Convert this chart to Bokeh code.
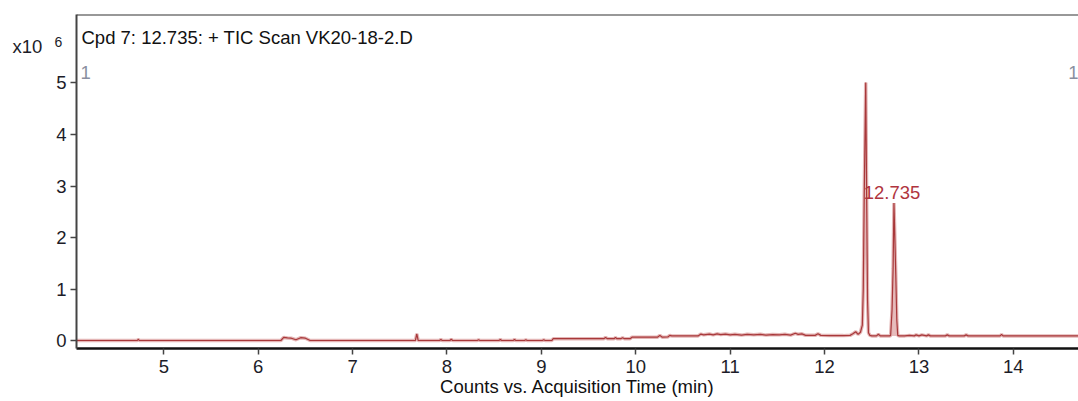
from bokeh.plotting import figure
from bokeh.models import Label, Span, FixedTicker, Range1d
from bokeh.embed import file_html
from bokeh.resources import INLINE

# ---- data (retention time in minutes, TIC counts in units of 10^6) ----
rt_min = [
    4.075, 4.72, 4.73, 4.74, 6.24, 6.27, 6.31, 6.35, 6.40, 6.45, 6.50, 6.55, 7.665, 7.68, 7.695,
    7.92, 7.935, 7.95, 8.03, 8.045, 8.06, 8.32, 8.335, 8.35, 8.55, 8.565, 8.58, 8.70, 8.715, 8.73,
    8.82, 8.835, 8.85, 9.01, 9.025, 9.04, 9.11,
    9.125, 9.66, 9.68, 9.70, 9.77, 9.785, 9.80, 9.84, 9.86, 9.88, 9.94, 9.96, 10.23, 10.255, 10.28,
    10.34, 10.36, 10.38,
    10.66, 10.69, 10.72, 10.78, 10.82, 10.86, 10.90, 10.95, 11.00, 11.05, 11.12, 11.18, 11.25, 11.32,
    11.38, 11.45, 11.52, 11.58, 11.64, 11.69, 11.72, 11.76, 11.80, 11.90, 11.93, 11.96, 12.05, 12.20, 12.27,
    12.30, 12.33, 12.355, 12.38, 12.40, 12.41, 12.42, 12.436, 12.447, 12.455, 12.465, 12.48, 12.50,
    12.55, 12.57, 12.59, 12.69, 12.70, 12.715, 12.726, 12.735, 12.754, 12.765, 12.775, 12.79,
    12.85, 12.90, 12.95, 12.97, 13.00, 13.03, 13.08, 13.10, 13.12, 13.28, 13.30, 13.32, 13.48, 13.50,
    13.52, 13.86, 13.875, 13.89, 14.20, 14.69,
]
tic_e6 = [
    0.0, 0.0, 0.025, 0.0, 0.0, 0.06, 0.05, 0.045, 0.015, 0.055, 0.045, 0.0, 0.0, 0.13, 0.0,
    0.0, 0.02, 0.0, 0.0, 0.025, 0.0, 0.0, 0.015, 0.0, 0.0, 0.02, 0.0, 0.0, 0.02, 0.0,
    0.0, 0.015, 0.0, 0.0, 0.015, 0.0, 0.0,
    0.035, 0.035, 0.06, 0.035, 0.035, 0.06, 0.035, 0.035, 0.055, 0.035, 0.035, 0.065, 0.065, 0.10, 0.065,
    0.07, 0.10, 0.09,
    0.09, 0.125, 0.11, 0.125, 0.11, 0.13, 0.115, 0.125, 0.11, 0.12, 0.105, 0.12, 0.11, 0.12,
    0.105, 0.115, 0.11, 0.12, 0.105, 0.14, 0.12, 0.13, 0.10, 0.10, 0.13, 0.10, 0.095, 0.095, 0.10,
    0.13, 0.17, 0.12, 0.16, 0.30, 1.0, 2.8, 5.01, 2.5, 0.8, 0.15, 0.10, 0.09,
    0.09, 0.12, 0.09, 0.09, 0.10, 0.6, 1.4, 2.67, 1.3, 0.4, 0.10, 0.09,
    0.09, 0.10, 0.09, 0.11, 0.09, 0.11, 0.09, 0.11, 0.09, 0.09, 0.11, 0.09, 0.09, 0.11,
    0.09, 0.09, 0.12, 0.09, 0.09, 0.09,
]
x_ticks = [5, 6, 7, 8, 9, 10, 11, 12, 13, 14]
y_ticks = [0, 1, 2, 3, 4, 5]
title_text = "Cpd 7: 12.735: + TIC Scan VK20-18-2.D"
x_label_text = "Counts vs. Acquisition Time (min)"
peak_rt = 12.735
peak_label = "12.735"
peak_window = (12.69, 12.79)

X_START, X_END = 4.075, 14.69
Y_START, Y_END = -0.155, 6.33

FONT = "Liberation Sans"
FS = "18.5px"
LINE = "#a8383a"
HALO = "#e4b6b6"

p = figure(width=1078, height=401, output_backend="svg", toolbar_location=None,
           x_range=Range1d(X_START, X_END), y_range=Range1d(Y_START, Y_END),
           min_border_left=76, min_border_right=0, min_border_top=14, min_border_bottom=53)
p.outline_line_color = None
p.grid.visible = False
p.background_fill_color = "white"
p.border_fill_color = "white"

# axes
xa = p.xaxis[0]
xa.ticker = FixedTicker(ticks=x_ticks)
xa.axis_line_width = 2.5
xa.axis_line_color = "#111111"
xa.major_tick_out = 6
xa.major_tick_in = 0
xa.major_tick_line_color = "#444444"
xa.major_tick_line_width = 1.5
xa.minor_tick_line_color = None
xa.major_label_text_font = FONT
xa.major_label_text_font_size = FS
xa.major_label_text_color = "#1c1c28"
xa.major_label_standoff = 5
xa.axis_label = x_label_text
xa.axis_label_text_font = FONT
xa.axis_label_text_font_size = FS
xa.axis_label_text_font_style = "normal"
xa.axis_label_text_color = "#111111"
xa.axis_label_standoff = 0

ya = p.yaxis[0]
ya.ticker = FixedTicker(ticks=y_ticks)
ya.axis_line_width = 2
ya.axis_line_color = "#444444"
ya.major_tick_out = 6
ya.major_tick_in = 0
ya.major_tick_line_color = "#444444"
ya.major_tick_line_width = 1.5
ya.minor_tick_line_color = None
ya.major_label_text_font = FONT
ya.major_label_text_font_size = FS
ya.major_label_text_color = "#1c1c28"
ya.major_label_standoff = 4

# top border
p.add_layout(Span(location=Y_END, dimension="width", line_color="#333333", line_width=2))

# shaded integrated peak
sel = [i for i, t in enumerate(rt_min) if peak_window[0] <= t <= peak_window[1]]
px = [rt_min[i] for i in sel]
py = [tic_e6[i] for i in sel]
base = min(py)
p.varea(x=px, y1=[base] * len(px), y2=py, fill_color=HALO, fill_alpha=0.9)

# chromatogram
p.line(rt_min, tic_e6, line_color=HALO, line_width=3.5)
p.line(rt_min, tic_e6, line_color=LINE, line_width=1.2)

# annotations
peak_h = max(tic_e6[i] for i in sel)
p.add_layout(Label(x=peak_rt, y=peak_h, x_offset=-2, y_offset=11, text=peak_label,
                   text_align="center", text_baseline="middle", text_font=FONT,
                   text_font_size=FS, text_color="#b0343e"))
p.add_layout(Label(x=5, y=311, x_units="screen", y_units="screen", text=title_text,
                   text_baseline="middle", text_font=FONT, text_font_size=FS,
                   text_color="#111111"))
p.add_layout(Label(x=4, y=276, x_units="screen", y_units="screen", text="1",
                   text_baseline="middle", text_font=FONT, text_font_size=FS,
                   text_color="#8a8fa0"))
p.add_layout(Label(x=1002, y=276, x_units="screen", y_units="screen", text="1",
                   text_align="right", text_baseline="middle", text_font=FONT,
                   text_font_size=FS, text_color="#8a8fa0"))
p.add_layout(Label(x=-11, y=302, x_units="screen", y_units="screen", text="x10",
                   text_baseline="middle", text_font=FONT, text_font_size=FS,
                   text_color="#1c1c28"), "left")
p.add_layout(Label(x=39, y=307, x_units="screen", y_units="screen", text="6",
                   text_baseline="middle", text_font=FONT, text_font_size="14px",
                   text_color="#1c1c28"), "left")

open("out.html", "w").write(file_html(p, INLINE))
